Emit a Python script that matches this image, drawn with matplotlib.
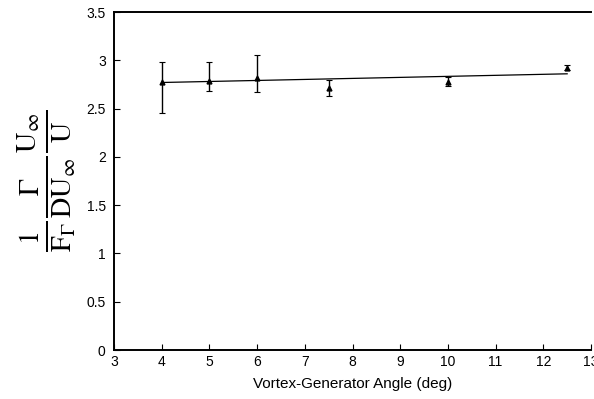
import matplotlib
matplotlib.use("Agg")
import matplotlib.pyplot as plt

angles = [4, 5, 6, 7.5, 10, 12.5]
values = [2.77, 2.79, 2.82, 2.71, 2.77, 2.92]
err_upper = [2.98, 2.98, 3.05, 2.80, 2.83, 2.95]
err_lower = [2.45, 2.68, 2.67, 2.63, 2.73, 2.90]
fit_x = [4, 12.5]
fit_y = [2.77, 2.86]

plt.rcParams['font.family'] = ['Liberation Sans', 'DejaVu Sans']
plt.rcParams['mathtext.fontset'] = 'stix'

fig = plt.figure(figsize=(5.94, 3.99), dpi=100)
ax = fig.add_axes([114/594, 49/399, 477/594, 338/399])

yerr = [[v - l for v, l in zip(values, err_lower)],
        [u - v for v, u in zip(values, err_upper)]]
ax.errorbar(angles, values, yerr=yerr, fmt='^', color='black', ms=3.5,
            ecolor='black', elinewidth=1.0, capsize=2.5, capthick=0.8)
ax.plot(fit_x, fit_y, color='black', lw=0.9)

ax.set_xlim(3, 13)
ax.set_ylim(0, 3.5)
ax.set_xticks(range(3, 14))
ax.set_yticks([0, 0.5, 1, 1.5, 2, 2.5, 3, 3.5])
ax.set_yticklabels(['0', '0.5', '1', '1.5', '2', '2.5', '3', '3.5'])
ax.tick_params(direction='in', length=4, width=0.8, labelsize=10)
ax.tick_params(axis='y', pad=6)
ax.spines['right'].set_visible(False)
for s in ax.spines.values():
    s.set_linewidth(1.4)

ax.set_xlabel('Vortex-Generator Angle (deg)', fontsize=11, labelpad=6)
ax.set_ylabel(r'$\mathrm{\frac{1}{F_\Gamma}\frac{\Gamma}{DU_\infty}\frac{U_\infty}{U}}$',
              fontsize=29, labelpad=6)

fig.savefig('out.png', dpi=100)
